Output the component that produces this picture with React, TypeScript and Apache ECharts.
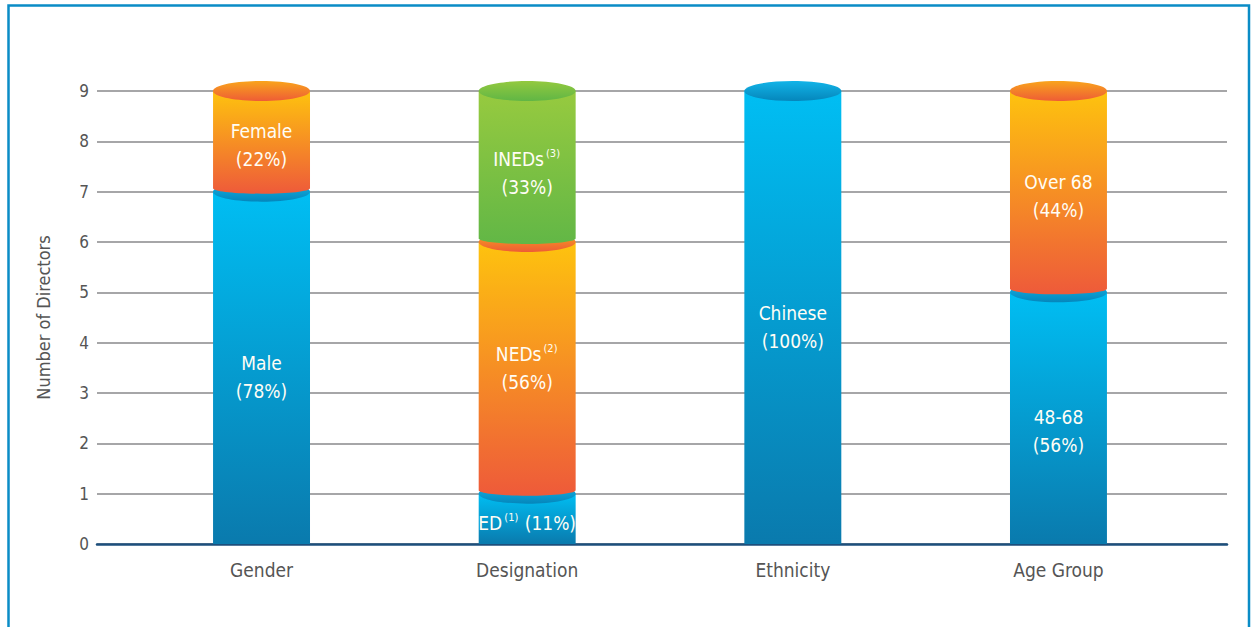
import React, { useEffect, useRef } from "react";
import * as echarts from "echarts";

const categories = ["Gender", "Designation", "Ethnicity", "Age Group"];
const segmentNames = [["Male", "Female"], ["ED", "NEDs", "INEDs"], ["Chinese"], ["48-68", "Over 68"]];
const segmentCounts = [[7, 2], [1, 5, 3], [9], [5, 4]];
const segmentPercents = [[78, 22], [11, 56, 33], [100], [56, 44]];
const segmentNotes = [[0, 0], [1, 2, 3], [0], [0, 0]];
const segmentPalettes = [["blue", "orange"], ["blue", "orange", "green"], ["blue"], ["blue", "orange"]];
const yMax = 9;
const yAxisTitle = "Number of Directors";

// label vertical nudges (px), styling only
const labelNudge = [[9, 4], [4, 0, 6], [9], [13, 4]];

const palettes: Record<string, { body: [string, string]; cap: [string, string] }> = {
  blue: { body: ["#00bef3", "#0a7aad"], cap: ["#12b4e8", "#0586bb"] },
  orange: { body: ["#fec30e", "#ee5a3a"], cap: ["#f9a41c", "#ee5c36"] },
  green: { body: ["#97ca3f", "#62b746"], cap: ["#93c93f", "#60b645"] },
};

const FONT = "'Liberation Sans Narrow', 'DejaVu Sans Condensed', 'Open Sans', sans-serif";

function grad(c: [string, string]) {
  return {
    type: "linear",
    x: 0,
    y: 0,
    x2: 0,
    y2: 1,
    colorStops: [
      { offset: 0, color: c[0] },
      { offset: 1, color: c[1] },
    ],
  };
}

type Seg = {
  cat: number;
  start: number;
  end: number;
  name: string;
  pct: number;
  note: number;
  pal: string;
  nudge: number;
};

const segs: Seg[] = [];
categories.forEach((_, i) => {
  let acc = 0;
  segmentCounts[i].forEach((v, j) => {
    segs.push({
      cat: i,
      start: acc,
      end: acc + v,
      name: segmentNames[i][j],
      pct: segmentPercents[i][j],
      note: segmentNotes[i][j],
      pal: segmentPalettes[i][j],
      nudge: labelNudge[i][j],
    });
    acc += v;
  });
});

export default function App() {
  const ref = useRef<HTMLDivElement>(null);
  useEffect(() => {
    if (!ref.current) return;
    const chart = echarts.init(ref.current, undefined, { renderer: "svg" });

    const renderItem = (params: any, api: any) => {
      const s = segs[params.dataIndex];
      const top = api.coord([s.cat, s.end]);
      const bot = api.coord([s.cat, s.start]);
      const bw = api.size([1, 0])[0] * 0.365;
      const rx = bw / 2;
      const cx = top[0];
      const xl = cx - rx;
      const xr = cx + rx;
      const yT = top[1];
      const yB = bot[1];
      const ry = 10;
      const k = 0.5523;
      let d: string;
      if (s.start === 0) {
        d = `M ${xl} ${yT} L ${xr} ${yT} L ${xr} ${yB} L ${xl} ${yB} Z`;
      } else {
        const yb = yB - 3.5;
        const r2 = 5.5;
        d =
          `M ${xl} ${yT} L ${xr} ${yT} L ${xr} ${yb} ` +
          `C ${xr} ${yb + r2 * k} ${cx + rx * k} ${yb + r2} ${cx} ${yb + r2} ` +
          `C ${cx - rx * k} ${yb + r2} ${xl} ${yb + r2 * k} ${xl} ${yb} Z`;
      }
      const pal = palettes[s.pal];
      const sup = s.note ? `{s|(${s.note})}` : "";
      const small = s.end - s.start < 2;
      const text = small
        ? `{n|${s.name}}${sup}{n| (${s.pct}%)}`
        : `{n|${s.name}}${sup}\n{n|(${s.pct}%)}`;
      return {
        type: "group",
        children: [
          { type: "path", shape: { pathData: d }, style: { fill: grad(pal.body) } },
          { type: "ellipse", shape: { cx, cy: yT, rx, ry }, style: { fill: grad(pal.cap) } },
          {
            type: "text",
            x: cx,
            y: (yT + yB) / 2 + s.nudge,
            style: {
              text,
              align: "center",
              verticalAlign: "middle",
              fill: "#fffdf5",
              fontFamily: FONT,
              fontSize: 19,
              rich: {
                n: { fontSize: 19, lineHeight: 28, fill: "#fffdf5", color: "#fffdf5", fontFamily: FONT },
                s: {
                  fontSize: 11,
                  lineHeight: 28,
                  fill: "#fffdf5",
                  color: "#fffdf5",
                  fontFamily: FONT,
                  padding: [0, 1, 10, 2],
                },
              },
            },
          },
        ],
      };
    };

    chart.setOption({
      animation: false,
      backgroundColor: "#ffffff",
      graphic: [
        {
          type: "rect",
          shape: { x: 8.5, y: 5.5, width: 1240.5, height: 700 },
          style: { fill: "none", stroke: "#0a8cc6", lineWidth: 2.5 },
          z: 100,
        },
      ],
      grid: [
        { left: 97, right: 26, top: 91, bottom: 83 },
        { left: 128.7, right: 61.7, top: 91, bottom: 83 },
      ],
      xAxis: [
        {
          type: "value",
          gridIndex: 0,
          min: 0,
          max: 1,
          axisLabel: { show: false },
          axisTick: { show: false },
          splitLine: { show: false },
          axisLine: { show: true, onZero: false, lineStyle: { color: "#1d4f7c", width: 2.5 } },
          z: 5,
        },
        {
          type: "category",
          gridIndex: 1,
          data: categories,
          axisLine: { show: false },
          axisTick: { show: false },
          axisLabel: { color: "#555555", fontSize: 19, fontFamily: FONT, margin: 16 },
        },
      ],
      yAxis: [
        {
          type: "value",
          gridIndex: 0,
          min: 0,
          max: yMax,
          interval: 1,
          axisLine: { show: false },
          axisTick: { show: false },
          axisLabel: { color: "#555555", fontSize: 17, fontFamily: FONT, margin: 8 },
          splitLine: { show: true, lineStyle: { color: "#a6a6a8", width: 2 } },
          name: yAxisTitle,
          nameLocation: "middle",
          nameRotate: 90,
          nameGap: 45,
          nameTextStyle: { color: "#555555", fontSize: 18, fontFamily: FONT },
        },
        {
          type: "value",
          gridIndex: 1,
          min: 0,
          max: yMax,
          show: false,
          splitLine: { show: false },
        },
      ],
      series: [
        {
          type: "custom",
          xAxisIndex: 1,
          yAxisIndex: 1,
          renderItem,
          data: segs.map((s) => [s.cat, s.start, s.end]),
          encode: { x: 0, y: [1, 2] },
          z: 10,
        },
      ],
    });
    return () => chart.dispose();
  }, []);
  return (
    <div
      ref={ref}
      style={{ position: "fixed", left: 0, top: 0, width: 1253, height: 627, background: "#fff" }}
    />
  );
}
